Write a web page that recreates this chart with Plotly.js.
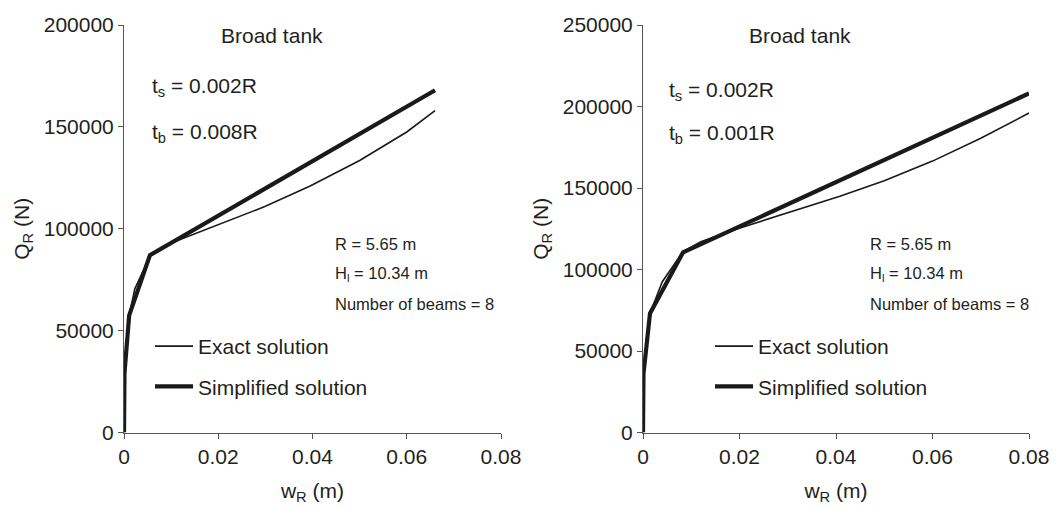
<!DOCTYPE html>
<html>
<head>
<meta charset="utf-8">
<script src="https://cdn.plot.ly/plotly-3.0.1.min.js"></script>
<style>html,body{margin:0;padding:0;background:#fff;}#chart{width:1057px;height:507px;}</style>
</head>
<body>
<div id="chart"></div>
<script>
// Left panel: t_s = 0.002R, t_b = 0.008R
var leftExactW = [0, 0.0002, 0.0011, 0.0023, 0.0055, 0.008, 0.01, 0.02, 0.03, 0.0395, 0.05, 0.06, 0.066];
var leftExactQ = [0, 30000, 57500, 70500, 86500, 90500, 93000, 102000, 111000, 121000, 133500, 147500, 158000];
var leftSimpW = [0, 0.0001, 0.0011, 0.0055, 0.066];
var leftSimpQ = [0, 29000, 57500, 87000, 168000];

// Right panel: t_s = 0.002R, t_b = 0.001R
var rightExactW = [0, 0.0001, 0.00145, 0.004, 0.0083, 0.012, 0.018, 0.03, 0.0408, 0.05, 0.06, 0.07, 0.08];
var rightExactQ = [0, 36000, 73000, 92500, 111000, 117000, 123500, 135000, 145000, 154500, 166500, 180500, 196000];
var rightSimpW = [0, 0.0001, 0.00145, 0.0083, 0.08];
var rightSimpQ = [0, 36000, 73000, 110500, 208000];

var xTicks = [0, 0.02, 0.04, 0.06, 0.08];
var xTickText = ["0", "0.02", "0.04", "0.06", "0.08"];
var yTicksLeft = [0, 50000, 100000, 150000, 200000];
var yTicksRight = [0, 50000, 100000, 150000, 200000, 250000];

var seriesNames = ["Exact solution", "Simplified solution"];
var panelTitle = "Broad tank";
var leftParams = ["t<sub>s</sub> = 0.002R", "t<sub>b</sub> = 0.008R"];
var rightParams = ["t<sub>s</sub> = 0.002R", "t<sub>b</sub> = 0.001R"];
var tankInfo = ["R = 5.65 m", "H<sub>l</sub> = 10.34 m", "Number of beams = 8"];

var FONT = "Liberation Sans, Arial, sans-serif";
var TXT = "#231f20";
var AX = "#555555";

var traces = [
  {x: leftExactW, y: leftExactQ, xaxis: "x", yaxis: "y", mode: "lines", name: seriesNames[0],
   line: {color: "#1a1a1a", width: 1.6}, legend: "legend", legendgroup: "a", cliponaxis: false},
  {x: leftSimpW, y: leftSimpQ, xaxis: "x", yaxis: "y", mode: "lines", name: seriesNames[1],
   line: {color: "#1a1a1a", width: 4.2}, legend: "legend", legendgroup: "b", cliponaxis: false},
  {x: rightExactW, y: rightExactQ, xaxis: "x2", yaxis: "y2", mode: "lines", name: seriesNames[0],
   line: {color: "#1a1a1a", width: 1.6}, legend: "legend2", legendgroup: "c", cliponaxis: false},
  {x: rightSimpW, y: rightSimpQ, xaxis: "x2", yaxis: "y2", mode: "lines", name: seriesNames[1],
   line: {color: "#1a1a1a", width: 4.2}, legend: "legend2", legendgroup: "d", cliponaxis: false}
];

function xAxis(domain, anchor) {
  return {domain: domain, anchor: anchor, range: [0, 0.08], tickvals: xTicks, ticktext: xTickText,
    showline: true, linecolor: AX, linewidth: 1, ticks: "outside", ticklen: 5, tickcolor: AX,
    showgrid: false, zeroline: false, tickfont: {family: FONT, size: 21, color: TXT},
    title: {text: "w<sub>R</sub> (m)", font: {family: FONT, size: 21, color: TXT}, standoff: 16}};
}
function yAxis(domain, anchor, maxv, ticks) {
  return {domain: domain, anchor: anchor, range: [0, maxv], tickvals: ticks, ticktext: ticks.map(String),
    showline: true, linecolor: AX, linewidth: 1, ticks: "outside", ticklen: 5, tickcolor: AX,
    showgrid: false, zeroline: false, tickfont: {family: FONT, size: 21, color: TXT},
    title: {text: "Q<sub>R</sub> (N)", font: {family: FONT, size: 21, color: TXT}, standoff: 8}};
}

var W = 1057, H = 507;
function px(v) { return v / W; }
function py(v) { return 1 - v / H; }
var ydom = [py(432.5), py(25)];

var annotations = [];
function addText(text, x, y, size, anchor) {
  annotations.push({text: text, x: px(x), y: py(y), xref: "paper", yref: "paper",
    xanchor: anchor || "left", yanchor: "middle", showarrow: false,
    font: {family: FONT, size: size, color: TXT}});
}
addText(panelTitle, 272, 35, 21, "center");
addText(panelTitle, 800, 35, 21, "center");
addText(leftParams[0], 150, 87, 21);
addText(leftParams[1], 150, 133, 21);
addText(rightParams[0], 667, 91, 21);
addText(rightParams[1], 667, 134, 21);
[333, 868].forEach(function (x0) {
  addText(tankInfo[0], x0, 244, 16.5);
  addText(tankInfo[1], x0, 274, 16.5);
  addText(tankInfo[2], x0, 304, 16.5);
});

var legendBase = {bgcolor: "rgba(0,0,0,0)", borderwidth: 0, font: {family: FONT, size: 21, color: TXT},
  traceorder: "grouped", tracegroupgap: 10, xanchor: "left", yanchor: "top", itemwidth: 38};

var layout = {
  width: W, height: H,
  margin: {l: 0, r: 0, t: 0, b: 0},
  paper_bgcolor: "#ffffff", plot_bgcolor: "#ffffff",
  showlegend: true,
  xaxis: xAxis([px(124), px(501)], "y"),
  yaxis: yAxis(ydom, "x", 200000, yTicksLeft),
  xaxis2: xAxis([px(643), px(1029)], "y2"),
  yaxis2: yAxis(ydom, "x2", 250000, yTicksRight),
  legend: Object.assign({}, legendBase, {x: px(150), y: py(326)}),
  legend2: Object.assign({}, legendBase, {x: px(710), y: py(326)}),
  annotations: annotations
};

Plotly.newPlot("chart", traces, layout, {staticPlot: true, displayModeBar: false});
</script>
</body>
</html>
